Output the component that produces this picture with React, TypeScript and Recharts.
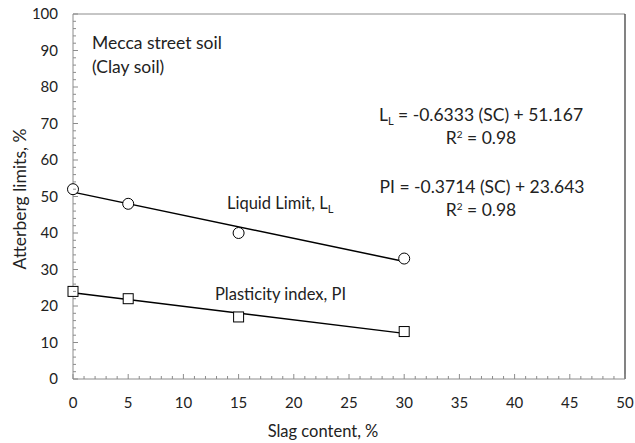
import React from 'react';
import { ScatterChart, Scatter, XAxis, YAxis, ReferenceLine } from 'recharts';

// Slag content (%) for the tested mixes
const slagContent = [0, 5, 15, 30];
const liquidLimit = [52, 48, 40, 33];
const plasticityIndex = [24, 22, 17, 13];

// Linear fit end points
const trendX = [0, 30];
const liquidTrend = [51.2, 32.2];
const plasticTrend = [23.6, 12.5];

const xTicks = Array.from({ length: 51 }, (_, i) => i);
const yTicks = Array.from({ length: 51 }, (_, i) => i * 2);

const AXIS = '#8c8c8c';
const FONT = 'Lato, "Open Sans", sans-serif';

const toPoints = (xs: number[], ys: number[]) => xs.map((x, i) => ({ x, y: ys[i] }));

const llPoints = toPoints(slagContent, liquidLimit);
const piPoints = toPoints(slagContent, plasticityIndex);
const llLine = toPoints(trendX, liquidTrend);
const piLine = toPoints(trendX, plasticTrend);

const XTick = (props: any) => {
  const { x, y, payload } = props;
  const major = payload.value % 5 === 0;
  const axisY = y - 12;
  return (
    <g>
      <line x1={x} x2={x} y1={axisY} y2={axisY - (major ? 5 : 3)} stroke={AXIS} />
      {major && (
        <text x={x} y={axisY + 29} textAnchor="middle" fontSize={15} fill="#222" fontFamily={FONT}>
          {payload.value}
        </text>
      )}
    </g>
  );
};

const YTick = (props: any) => {
  const { x, y, payload } = props;
  const major = payload.value % 10 === 0;
  const axisX = x + 12;
  return (
    <g>
      <line x1={axisX} x2={axisX + (major ? 5 : 3)} y1={y} y2={y} stroke={AXIS} />
      {major && (
        <text x={axisX - 15} y={y + 5} textAnchor="end" fontSize={15} fill="#222" fontFamily={FONT}>
          {payload.value}
        </text>
      )}
    </g>
  );
};

const Circle = (props: any) => (
  <circle cx={props.cx} cy={props.cy} r={5.5} fill="#fff" stroke="#000" strokeWidth={1} />
);

const Square = (props: any) => (
  <rect x={props.cx - 5} y={props.cy - 5} width={10} height={10} fill="#fff" stroke="#000" strokeWidth={1} />
);

const NoShape = () => null;

export default function App() {
  return (
    <div style={{ position: 'fixed', left: 0, top: 0, width: 635, height: 443, background: '#fff' }}>
      <ScatterChart width={635} height={443} margin={{ top: 14, right: 10, bottom: 14, left: 13 }}>
        <XAxis
          type="number"
          dataKey="x"
          domain={[0, 50]}
          ticks={xTicks}
          interval={0}
          tickSize={0}
          tickMargin={12}
          tickLine={false}
          tick={<XTick />}
          height={50}
          stroke={AXIS}
        />
        <YAxis
          type="number"
          dataKey="y"
          domain={[0, 100]}
          ticks={yTicks}
          interval={0}
          tickSize={0}
          tickMargin={12}
          tickLine={false}
          tick={<YTick />}
          width={60}
          stroke={AXIS}
        />
        <ReferenceLine y={100} stroke={AXIS} />
        <ReferenceLine x={50} stroke="#404040" strokeWidth={1.3} />
        <Scatter data={llLine} line={{ stroke: '#000', strokeWidth: 1.5 }} shape={<NoShape />} isAnimationActive={false} />
        <Scatter data={piLine} line={{ stroke: '#000', strokeWidth: 1.5 }} shape={<NoShape />} isAnimationActive={false} />
        <Scatter data={llPoints} shape={<Circle />} isAnimationActive={false} />
        <Scatter data={piPoints} shape={<Square />} isAnimationActive={false} />
      </ScatterChart>
      <svg
        width={635}
        height={443}
        style={{ position: 'absolute', left: 0, top: 0, pointerEvents: 'none' }}
        fontFamily={FONT}
        fill="#222"
      >
        <text x={19} y={199} fontSize={17.5} textAnchor="middle" transform="rotate(-90 19 199)" dominantBaseline="central">
          Atterberg limits,  %
        </text>
        <text x={323} y={437} fontSize={16.5} textAnchor="middle">Slag content, %</text>
        <text x={92} y={49} fontSize={17.5}>Mecca street soil</text>
        <text x={92} y={73} fontSize={17.5}>(Clay soil)</text>
        <text x={481} y={121} fontSize={17.5} textAnchor="middle">
          L<tspan fontSize={11} dy={4}>L</tspan>
          <tspan dy={-4}> = -0.6333 (SC) + 51.167</tspan>
        </text>
        <text x={481} y={144} fontSize={17.5} textAnchor="middle">
          R<tspan fontSize={10} dy={-6}>2</tspan>
          <tspan dy={6}> = 0.98</tspan>
        </text>
        <text x={482} y={193} fontSize={17.5} textAnchor="middle">PI = -0.3714 (SC) + 23.643</text>
        <text x={481} y={216} fontSize={17.5} textAnchor="middle">
          R<tspan fontSize={10} dy={-6}>2</tspan>
          <tspan dy={6}> = 0.98</tspan>
        </text>
        <text x={227} y={209} fontSize={16.5}>
          Liquid Limit, L<tspan fontSize={11} dy={4}>L</tspan>
        </text>
        <text x={215} y={300} fontSize={16.5}>Plasticity index, PI</text>
      </svg>
    </div>
  );
}
